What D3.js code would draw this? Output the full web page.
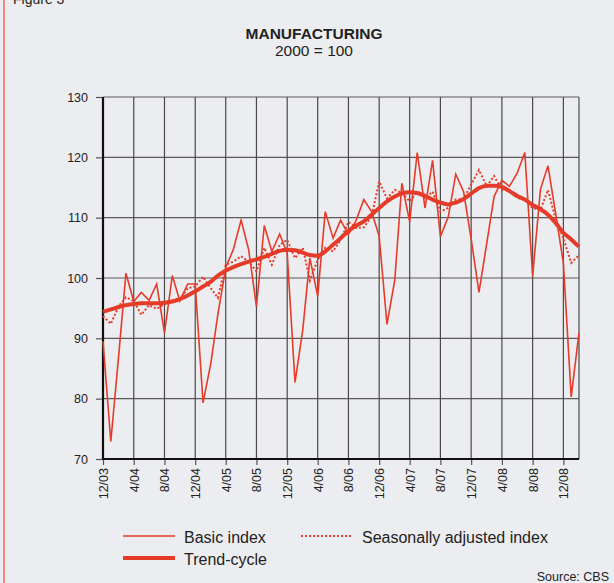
<!DOCTYPE html>
<html>
<head>
  <meta charset="UTF-8">
  <title>Manufacturing</title>
  <script src="https://d3js.org/d3.v7.min.js"></script>
  <style>
    body { margin: 0; background: #ecedf0; }
    text { font-family: "Liberation Sans", Arial, sans-serif; fill: #222; }
  </style>
</head>
<body>
  <div id="chart"></div>
  <script>
    // monthly data, 12/03 .. 2/09
    const startMonth = "12/03";
    const basicIndex = [
      89.5, 72.9, 87.0, 100.8, 96.1, 97.6, 96.3, 99.0, 90.9, 100.4, 96.2, 99.0,
      99.0, 79.3, 85.9, 94.0, 101.7, 104.7, 109.6, 104.7, 95.3, 108.7, 104.4, 107.3,
      104.1, 82.7, 91.5, 103.3, 97.0, 111.0, 106.6, 109.6, 107.2, 109.6, 113.0, 111.0,
      106.9, 92.3, 99.7, 115.7, 109.3, 120.8, 111.6, 119.5, 106.9, 110.1, 117.2, 114.3,
      106.5, 97.6, 105.8, 113.5, 116.2, 115.2, 117.4, 120.8, 100.3, 114.7, 118.6, 110.5,
      102.5, 80.3, 90.9
    ];
    const seasonallyAdjusted = [
      93.7, 92.4, 95.3, 96.8, 96.2, 93.9, 95.5, 94.9, 95.7, 96.2, 96.4, 98.3,
      98.6, 100.2, 98.3, 96.7, 102.2, 102.7, 103.6, 102.7, 101.1, 105.0, 102.2, 105.5,
      106.3, 103.3, 105.0, 99.6, 103.0, 105.0, 104.4, 106.3, 109.3, 108.3, 108.4, 110.2,
      116.0, 113.2, 114.6, 114.1, 112.7, 114.3, 113.2, 114.3, 111.0, 111.6, 113.0, 113.1,
      115.5, 117.9, 115.2, 116.9, 114.6, 114.6, 113.3, 113.0, 111.6, 111.3, 114.6, 109.6,
      106.6, 102.5, 103.8
    ];
    const trendCycle = [
      94.4, 94.8, 95.2, 95.5, 95.7, 95.8, 95.8, 95.8, 95.9, 96.1, 96.5, 97.1,
      97.8, 98.6, 99.4, 100.4, 101.2, 101.8, 102.3, 102.7, 103.1, 103.5, 104.0, 104.5,
      104.7, 104.6, 104.2, 103.8, 103.7, 104.4, 105.5, 106.6, 107.8, 108.7, 109.4, 110.5,
      111.6, 112.7, 113.5, 114.0, 114.2, 114.1, 113.6, 113.0, 112.5, 112.2, 112.5, 113.1,
      114.0, 114.9, 115.3, 115.3, 115.1, 114.4, 113.6, 113.0, 112.1, 111.4, 110.5, 109.1,
      107.5, 106.4, 105.2
    ];
    const tickLabels = ["12/03", "4/04", "8/04", "12/04", "4/05", "8/05", "12/05", "4/06",
      "8/06", "12/06", "4/07", "8/07", "12/07", "4/08", "8/08", "12/08"];
    const yTicks = [70, 80, 90, 100, 110, 120, 130];

    const parseMonth = d3.timeParse("%m/%y");
    const start = parseMonth(startMonth);
    const months = basicIndex.map((v, i) => d3.timeMonth.offset(start, i));

    const W = 614, H = 583;
    const margin = { top: 97, right: 35, bottom: 124, left: 103 };
    const width = W - margin.left - margin.right;
    const height = H - margin.top - margin.bottom;
    const red = "#e63b28";

    const root = d3.select("#chart").append("svg")
      .attr("width", W).attr("height", H);

    root.append("rect").attr("width", W).attr("height", H).attr("fill", "#ecedf0");
    root.append("line")
      .attr("x1", 4).attr("x2", 4).attr("y1", 0).attr("y2", H)
      .attr("stroke", "#ec6a5c").attr("stroke-width", 1.5);
    root.append("text").attr("x", 13).attr("y", 4).style("font-size", "14px").text("Figure 3");

    root.append("text")
      .attr("x", 314).attr("y", 39)
      .attr("text-anchor", "middle")
      .style("font-size", "15.5px").style("font-weight", "bold")
      .text("MANUFACTURING");
    root.append("text")
      .attr("x", 314).attr("y", 56)
      .attr("text-anchor", "middle")
      .style("font-size", "15.5px")
      .text("2000 = 100");

    const svg = root.append("g")
      .attr("transform", "translate(" + margin.left + "," + margin.top + ")");

    const x = d3.scaleTime()
      .domain([months[0], months[months.length - 1]])
      .range([0, width]);
    const y = d3.scaleLinear().domain([70, 130]).range([height, 0]);

    const tickDates = tickLabels.map(parseMonth);

    // grid
    svg.append("g")
      .selectAll("line")
      .data(yTicks.slice(1))
      .join("line")
      .attr("x1", 0).attr("x2", width)
      .attr("y1", d => y(d)).attr("y2", d => y(d))
      .attr("stroke", "#5a5a5a").attr("stroke-width", 1.2);
    svg.append("g")
      .selectAll("line")
      .data(tickDates.slice(1).concat([months[months.length - 1]]))
      .join("line")
      .attr("x1", d => x(d)).attr("x2", d => x(d))
      .attr("y1", 0).attr("y2", height)
      .attr("stroke", "#4a4a4a").attr("stroke-width", 1.2);

    // axes
    const yAxis = svg.append("g")
      .call(d3.axisLeft(y).tickValues(yTicks).tickSize(7).tickPadding(8));
    yAxis.select(".domain").remove();
    yAxis.selectAll(".tick line").attr("stroke", "#555").attr("stroke-width", 1.2);
    yAxis.selectAll("text").style("font-size", "12.5px").attr("fill", "#222")
      .style("font-family", "'Liberation Sans', Arial, sans-serif");

    const fmt = d => (d.getMonth() + 1) + "/" + d3.timeFormat("%y")(d);
    const xAxis = svg.append("g")
      .attr("transform", "translate(0," + height + ")")
      .call(d3.axisBottom(x).tickValues(tickDates).tickFormat(fmt).tickSize(6));
    xAxis.select(".domain").remove();
    xAxis.selectAll(".tick line").attr("stroke", "#555").attr("stroke-width", 1.2);
    xAxis.selectAll("text")
      .style("font-size", "12.5px").attr("fill", "#222")
      .style("font-family", "'Liberation Sans', Arial, sans-serif")
      .style("text-anchor", "end")
      .attr("transform", "rotate(-90)")
      .attr("x", -9).attr("y", 0).attr("dy", "0.35em");

    svg.append("line")
      .attr("x1", 0).attr("x2", 0).attr("y1", 0).attr("y2", height + 1)
      .attr("stroke", "#111").attr("stroke-width", 2.2);
    svg.append("line")
      .attr("x1", -1).attr("x2", width).attr("y1", height).attr("y2", height)
      .attr("stroke", "#111").attr("stroke-width", 2.2);

    // series
    const line = d3.line()
      .x((d, i) => x(months[i]))
      .y(d => y(d));

    svg.append("path").datum(basicIndex)
      .attr("d", line)
      .attr("fill", "none").attr("stroke", red).attr("stroke-width", 1.6)
      .attr("stroke-linejoin", "miter");
    svg.append("path").datum(seasonallyAdjusted)
      .attr("d", line)
      .attr("fill", "none").attr("stroke", red).attr("stroke-width", 2)
      .attr("stroke-dasharray", "2,2");
    svg.append("path").datum(trendCycle)
      .attr("d", line.curve(d3.curveMonotoneX))
      .attr("fill", "none").attr("stroke", red).attr("stroke-width", 4)
      .attr("stroke-linejoin", "round");

    // legend
    const legend = [
      { label: "Basic index", x: 123, y: 536, w: 1.6, dash: null },
      { label: "Seasonally adjusted index", x: 301, y: 536, w: 2, dash: "2,2" },
      { label: "Trend-cycle", x: 123, y: 558, w: 4, dash: null }
    ];
    const lg = root.append("g");
    legend.forEach(l => {
      lg.append("line")
        .attr("x1", l.x).attr("x2", l.x + 52).attr("y1", l.y).attr("y2", l.y)
        .attr("stroke", red).attr("stroke-width", l.w)
        .attr("stroke-dasharray", l.dash);
      lg.append("text")
        .attr("x", l.x + 61).attr("y", l.y + 1).attr("dy", "0.35em")
        .style("font-size", "16px")
        .text(l.label);
    });

    root.append("text")
      .attr("x", 609).attr("y", 581)
      .attr("text-anchor", "end")
      .style("font-size", "12.5px")
      .text("Source: CBS");
  </script>
</body>
</html>
